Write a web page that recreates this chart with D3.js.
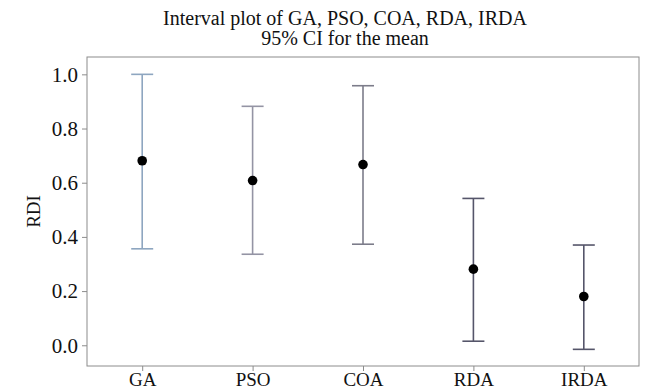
<!DOCTYPE html>
<html>
<head>
<meta charset="utf-8">
<script src="https://d3js.org/d3.v7.min.js"></script>
<style>
  body { margin: 0; background: #fff; }
  svg text { font-family: "Liberation Serif", serif; fill: #111; }
</style>
</head>
<body>
<div id="chart"></div>
<script>
// data (95% CI for the mean)
const categories = ['GA', 'PSO', 'COA', 'RDA', 'IRDA'];
const means = [0.681, 0.608, 0.667, 0.281, 0.180];
const lower = [0.356, 0.336, 0.373, 0.015, -0.015];
const upper = [1.000, 0.882, 0.958, 0.542, 0.370];
const yTicks = [0.0, 0.2, 0.4, 0.6, 0.8, 1.0];

const barColors = ['#8ea6c0', '#9494a4', '#7c7c8a', '#55556a', '#55556a'];

const width = 646, height = 392;
const margin = { top: 57, right: 7, bottom: 26, left: 87 };

const svg = d3.select('#chart').append('svg')
    .attr('width', width)
    .attr('height', height);

const x = d3.scalePoint()
    .domain(categories)
    .range([margin.left, width - margin.right])
    .padding(0.5);

const y = d3.scaleLinear()
    .domain([-0.0765, 1.064])
    .range([height - margin.bottom, margin.top]);

// frame
svg.append('rect')
    .attr('x', margin.left)
    .attr('y', margin.top)
    .attr('width', width - margin.left - margin.right)
    .attr('height', height - margin.top - margin.bottom)
    .attr('fill', 'none')
    .attr('stroke', '#8c8c8c')
    .attr('stroke-width', 1);

// y axis
const yAxis = svg.append('g')
    .attr('transform', 'translate(' + margin.left + ',0)')
    .call(d3.axisLeft(y).tickValues(yTicks).tickFormat(d3.format('.1f')).tickSize(5).tickPadding(4));
yAxis.select('.domain').remove();
yAxis.selectAll('line').attr('stroke', '#8c8c8c');
yAxis.selectAll('text').style('font-size', '21px').attr('fill', '#111');

// x axis
const xAxis = svg.append('g')
    .attr('transform', 'translate(0,' + (height - margin.bottom) + ')')
    .call(d3.axisBottom(x).tickSize(5).tickPadding(2));
xAxis.select('.domain').remove();
xAxis.selectAll('line').attr('stroke', '#8c8c8c');
xAxis.selectAll('text').style('font-size', '19px').attr('fill', '#111');

// y label
svg.append('text')
    .attr('transform', 'translate(40,' + ((margin.top + height - margin.bottom) / 2) + ') rotate(-90)')
    .attr('text-anchor', 'middle')
    .style('font-size', '19px')
    .text('RDI');

// title
svg.append('text')
    .attr('x', 345).attr('y', 25)
    .attr('text-anchor', 'middle')
    .style('font-size', '20px')
    .text('Interval plot of GA, PSO, COA, RDA, IRDA');
svg.append('text')
    .attr('x', 345).attr('y', 45)
    .attr('text-anchor', 'middle')
    .style('font-size', '20px')
    .text('95% CI for the mean');

// interval bars
const groups = svg.selectAll('.interval')
    .data(categories)
    .enter().append('g')
    .attr('class', 'interval');

groups.append('line')
    .attr('x1', d => x(d)).attr('x2', d => x(d))
    .attr('y1', (d, i) => y(lower[i]))
    .attr('y2', (d, i) => y(upper[i]))
    .attr('stroke', (d, i) => barColors[i])
    .attr('stroke-width', 1.6);

groups.append('line')
    .attr('x1', d => x(d) - 11).attr('x2', d => x(d) + 11)
    .attr('y1', (d, i) => y(upper[i])).attr('y2', (d, i) => y(upper[i]))
    .attr('stroke', (d, i) => barColors[i])
    .attr('stroke-width', 1.6);

groups.append('line')
    .attr('x1', d => x(d) - 11).attr('x2', d => x(d) + 11)
    .attr('y1', (d, i) => y(lower[i])).attr('y2', (d, i) => y(lower[i]))
    .attr('stroke', (d, i) => barColors[i])
    .attr('stroke-width', 1.6);

groups.append('circle')
    .attr('cx', d => x(d))
    .attr('cy', (d, i) => y(means[i]))
    .attr('r', 4.8)
    .attr('fill', '#000');
</script>
</body>
</html>
